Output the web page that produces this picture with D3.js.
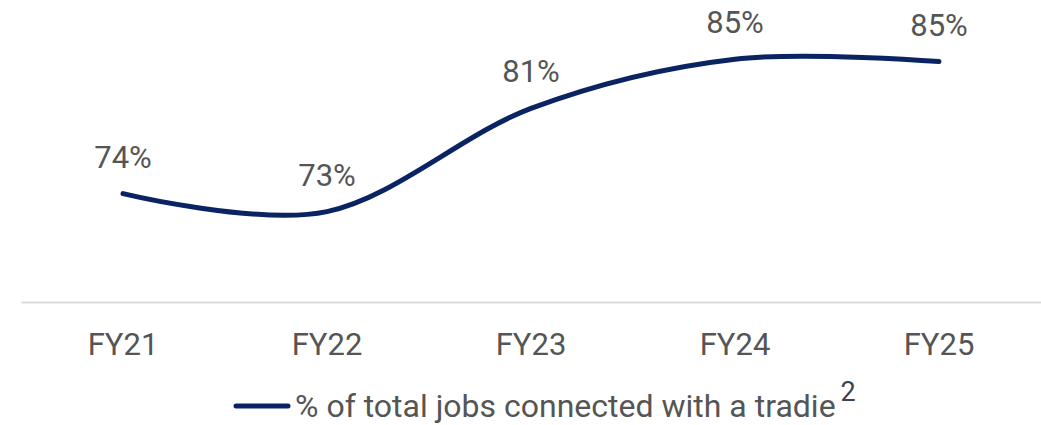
<!DOCTYPE html>
<html>
<head>
<meta charset="utf-8">
<script src="https://cdn.jsdelivr.net/npm/d3@7"></script>
<style>
  html, body { margin: 0; padding: 0; background: #fff; }
  svg { display: block; font-family: Roboto, "Noto Sans", sans-serif; }
</style>
</head>
<body>
<div id="chart"></div>
<script>
// values (labels are rounded)
var categories = ['FY21', 'FY22', 'FY23', 'FY24', 'FY25'];
var values = [74.2, 72.7, 81.3, 85.4, 85.2];
var valueLabels = ['74%', '73%', '81%', '85%', '85%'];
var seriesName = '% of total jobs connected with a tradie';
var seriesNote = '2';

var width = 1041, height = 425;
var lineColor = '#0a2362', textColor = '#555555';

var svg = d3.select('#chart').append('svg')
    .attr('width', width)
    .attr('height', height);

var x = d3.scaleBand().domain(categories).range([21, 1041]).padding(0);
var y = d3.scaleLinear().domain([65, 90]).range([304, 4]);
var cx = function (d, i) { return x(categories[i]) + x.bandwidth() / 2; };

// category axis
var axis = svg.append('g')
    .attr('transform', 'translate(0,302)')
    .call(d3.axisBottom(x).tickSize(0));
axis.select('.domain').attr('stroke', '#d9d9d9').attr('stroke-width', 2);
axis.selectAll('text')
    .attr('y', 53).attr('dy', null)
    .attr('fill', textColor)
    .style('font-size', '31px')
    .style('font-family', 'Roboto, sans-serif');

// smoothed line
var line = d3.line()
    .x(cx)
    .y(function (d) { return y(d); })
    .curve(d3.curveCardinal.tension(0));

svg.append('path')
    .datum(values)
    .attr('d', line)
    .attr('fill', 'none')
    .attr('stroke', lineColor)
    .attr('stroke-width', 5)
    .attr('stroke-linecap', 'round');

// data labels
svg.selectAll('.lbl').data(values).enter().append('text')
    .classed('lbl', true)
    .attr('x', cx)
    .attr('y', function (d) { return y(d) - 26; })
    .attr('text-anchor', 'middle')
    .attr('fill', textColor)
    .style('font-size', '31px')
    .text(function (d, i) { return valueLabels[i]; });

// legend
svg.append('line')
    .attr('x1', 236).attr('x2', 288)
    .attr('y1', 406).attr('y2', 406)
    .attr('stroke', lineColor)
    .attr('stroke-width', 5)
    .attr('stroke-linecap', 'round');

var leg = svg.append('text')
    .attr('x', 295).attr('y', 417)
    .attr('fill', textColor)
    .style('font-size', '32px');
leg.append('tspan').text(seriesName);
leg.append('tspan')
    .attr('dx', 5).attr('dy', -16)
    .attr('fill', '#3a4256')
    .style('font-size', '27px')
    .text(seriesNote);
</script>
</body>
</html>
